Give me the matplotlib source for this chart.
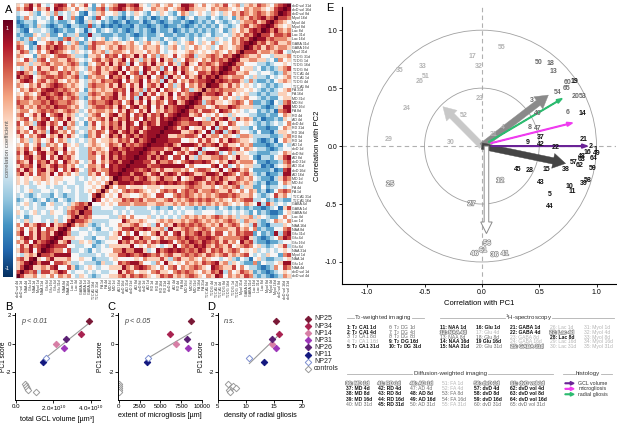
import matplotlib
matplotlib.use("Agg")
import matplotlib.pyplot as plt
import matplotlib.patheffects as pe
from matplotlib.lines import Line2D
from matplotlib.patches import Circle, FancyArrow
import numpy as np

plt.rcParams["font.family"] = ["Liberation Sans", "DejaVu Sans"]
plt.rcParams["mathtext.default"] = "regular"

W, H = 617, 434


def box(x0, y0, x1, y1):
    return [x0 / W, 1 - y1 / H, (x1 - x0) / W, (y1 - y0) / H]


def fx(x):
    return x / W


def fy(y):
    return 1 - y / H


# ---------------- A: correlation matrix ----------------
row_labels = [
    "dvD vol 31d", "dvD vol 16d", "dvD vol 8d", "MyoI 16d", "MyoI 4d", "MyoI 8d",
    "Lac 8d", "Lac 31d", "Lac 16d", "GABA 31d", "GABA 16d", "MyoI 31d",
    "T$_2$ DG 31d", "T$_2$ DG 1d", "T$_2$ DG 16d", "T$_2$ DG 8d", "T$_2$ CA1 4d",
    "T$_2$ CA1 1d", "T$_2$ DG 4d", "T$_2$ CA1 8d", "FA 31d", "FA 16d", "MD 31d",
    "MD 8d", "MD 16d", "FA 8d", "RD 4d", "AD 4d", "dvD 4d", "RD 31d", "RD 16d",
    "RD 8d", "RD 1d", "AD 1d", "dvD 1d", "dvD 8d", "AD 8d", "dvD 31d", "AD 31d",
    "dvD 16d", "AD 16d", "MD 1d", "MD 4d", "FA 4d", "FA 1d", "T$_2$ CA1 31d",
    "T$_2$ CA1 16d", "GABA 4d", "GABA 1d", "GABA 8d", "Lac 4d", "Lac 1d",
    "NAA 16d", "NAA 8d", "Glu 31d", "Glu 4d", "Glu 16d", "Glu 8d", "NAA 31d",
    "MyoI 1d", "NAA 1d", "Glu 1d", "NAA 4d", "dvD vol 1d", "dvD vol 4d",
]

# colour level of each cell (0 = dark blue, 4 = white, 9 = 1.0)
level_values = [-0.92, -0.74, -0.52, -0.28, 0.0, 0.24, 0.48, 0.68, 0.86, 1.0]

# upper-left triangle, one string per row (top to bottom), columns left to right
corr_rows = [
    "5468574347874645742464 5688678543564564588754 645657456356576546789",
    "6578465748765464532673 6787567644655645678655 54656654546566545789",
    "3445324536343542143564 4532435432435432465345 4354354657656765679",
    "2364343424843621432743 2321324323123243213423 324323425657678679",
    "1233244323223421353423 2123122312321232232123 23243234356675689",
    "2123253212321332272312 1212213221232122321232 3232432346756789",
    "3214334321232243134234 3232123232132231232323 232342354657879",
    "2322543522423352283322 2322321232234223223232 34233435657689",
    "3236435433267534243452 3432342342332432343243 4335434657689",
    "6532144675743562357665 5654564356453245345643 546345465789",
    "7642375768765653267545 6576565465564356435465 45346545679",
    "5763464687654354346563 5665465546564345445654 5456546579",
    "6544256546776533255647 6747658574636547456735 567657689",
    "5475367466557654346756 7568475365748563547654 65767689",
    "6653556756656763254675 8576384675856475368547 6765789",
    "4356475576465654365756 5684756487563748576465 657689",
    "7865367655767563456755 7858467385748657486547 76879",
    "8678456776765673265664 8675846758467385647568 6879",
    "5787467567546564356576 6784756847563857465767 789",
    "6546575678765654367665 7586475846758463574657 69",
    "4657657887676564256565 5767485637584765476356 9",
    "5465468767867653367656 6857476385746584756789",
    "6576576876756763256576 785647385746857467689",
    "7665667687667654367667 86746857485764785689",
    "6756576768776564356776 7586478568475867889",
    "5664567676567653465665 647586475846576789",
    "6745758467856534356745 78568476857685789",
    "5674657846758543465675 8576857486758789",
    "7465378576485634257465 768587486875889",
    "6548567485736543356475 86758678578889",
    "7564756387564634365764 7857868578889",
    "5746578465857543265745 868578687889",
    "4653564574653434356455 65767586789",
    "5464573656475453456545 7658676789",
    "6574685476584543365654 786787889",
    "7586478568475643367565 87868889",
    "6478568475867543366475 8687889",
    "7658476857486564357465 786889",
    "5767486578675643466574 87889",
    "7586478568475864367566 8789",
    "6857476584756453365746 889",
    "5454556545544434345454 69",
    "5453454545434433454546 9",
    "4343344343343343445469",
    "434533443434434345469",
    "34323433243233433479",
    "2343234232432343349",
    "345343245334356769",
    "43434334434356779",
    "5434534354436769",
    "342344333434579",
    "43534434353479",
    "6475687485679",
    "574658476589",
    "68475867589",
    "4687586789",
    "657486789",
    "47586789",
    "5768479",
    "435659",
    "67589",
    "5689",
    "579",
    "79",
    "9",
]

n = len(row_labels)
corr = np.zeros((n, n))
for i, s in enumerate(corr_rows):
    s = s.replace(" ", "")
    for j in range(n - i):
        v = level_values[int(s[j])] if j < len(s) else 0.0
        corr[i, j] = v
        corr[n - 1 - j, n - 1 - i] = v
    corr[i, n - 1 - i] = 1.0

# ---------------- B-D: PC1 score vs histology ----------------
groups = ["NP25", "NP34", "NP14", "NP31", "NP26", "NP11", "NP27", "controls"]
group_colors = ["#7a1836", "#a8214f", "#d77ea5", "#9c36b8", "#5a1f73", "#13187f", "#7d8fd0", "#9a9a9a"]
pc1_score = [1.6, 0.66, 0.0, -0.28, 0.3, -1.3, -0.98]
gcl_volume = [3.9e10, 3.46e10, 2.14e10, 2.57e10, 2.66e10, 1.46e10, 1.62e10]
microgliosis = [8700, 6160, 6860, 8290, 8170, 3380, 3500]
radial_gliosis = [15.4, 15.9, 14.6, 15.4, 14.7, 13.3, 10.6]
ctrl_pc1 = [-2.84, -3.0, -3.1, -3.27, -3.42]
ctrl_gcl = [0.46e10, 0.52e10, 0.6e10, 0.66e10, 1.06e10]
ctrl_microgliosis = [0, 0, 0, 0, 0]
ctrl_radial = [6.7, 7.6, 8.3, 7.0, 7.2]

# ---------------- E: correlation circle ----------------
feature_names = [
    "T$_2$ CA1 1d", "T$_2$ CA1 4d", "T$_2$ CA1 8d", "T$_2$ CA1 16d", "T$_2$ CA1 31d",
    "T$_2$ DG 1d", "T$_2$ DG 4d", "T$_2$ DG 8d", "T$_2$ DG 16d", "T$_2$ DG 31d",
    "NAA 1d", "NAA 4d", "NAA 8d", "NAA 16d", "NAA 31d",
    "Glu 1d", "Glu 4d", "Glu 8d", "Glu 16d", "Glu 31d",
    "GABA 1d", "GABA 4d", "GABA 8d", "GABA 16d", "GABA 31d",
    "Lac 1d", "Lac 4d", "Lac 8d", "Lac 16d", "Lac 31d",
    "MyoI 1d", "MyoI 4d", "MyoI 8d", "MyoI 16d", "MyoI 31d",
    "MD 1d", "MD 4d", "MD 8d", "MD 16d", "MD 31d",
    "RD 1d", "RD 4d", "RD 8d", "RD 16d", "RD 31d",
    "AD 1d", "AD 4d", "AD 8d", "AD 16d", "AD 31d",
    "FA 1d", "FA 4d", "FA 8d", "FA 16d", "FA 31d",
    "dvD 1d", "dvD 4d", "dvD 8d", "dvD 16d", "dvD 31d",
    "dvD vol 1d", "dvD vol 4d", "dvD vol 8d", "dvD vol 16d", "dvD vol 31d",
]
# b = bold black, g = grey, l = light grey, o = outlined
feature_style = ("bbglbgggbb" "bogbbblgbg" "bbllolobll" "lllll"
                 "obbbg" "obbbb" "ogbbg" "llggl" "obbbg" "obbbg")

pc1_corr = {
    1: 0.99, 2: 0.95, 3: 0.44, 4: 0.18, 5: 0.59, 6: 0.75, 8: 0.42, 9: 0.40, 10: 0.76,
    11: 0.79, 12: 0.16, 13: 0.62, 14: 0.88, 15: 0.56, 16: 0.92, 17: -0.085, 18: 0.60,
    19: 0.81, 20: 0.82, 21: 0.89, 22: 0.64, 23: -0.02, 24: -0.66, 25: -0.80, 26: -0.54,
    27: -0.09, 28: 0.42, 29: -0.81, 30: -0.275, 31: 0.10, 32: -0.03, 33: -0.52,
    35: -0.72, 36: 0.11, 37: 0.51, 38: 0.73, 39: 0.89, 40: 0.49, 41: 0.20, 42: 0.51,
    43: 0.51, 44: 0.59, 45: 0.31, 46: -0.065, 47: 0.49, 48: 0.875, 49: 1.0, 50: 0.50,
    51: -0.49, 52: -0.16, 53: 0.88, 54: 0.66, 55: 0.17, 56: 0.045, 57: 0.80, 58: 0.92,
    59: 0.97, 60: 0.75, 61: 0.01, 62: 0.855, 63: 0.87, 64: 0.97, 65: 0.74,
}
pc2_corr = {
    1: -0.03, 2: 0.0, 3: 0.39, 4: 0.16, 5: -0.42, 6: 0.29, 8: 0.16, 9: 0.035, 10: -0.35,
    11: -0.39, 12: -0.30, 13: 0.64, 14: 0.28, 15: -0.20, 16: -0.055, 17: 0.77, 18: 0.71,
    19: 0.56, 20: 0.43, 21: 0.055, 22: -0.01, 23: 0.41, 24: 0.32, 25: -0.33, 26: 0.56,
    27: -0.50, 28: -0.21, 29: 0.055, 30: 0.035, 31: 0.10, 32: 0.69, 33: 0.69,
    35: 0.65, 36: -0.94, 37: 0.07, 38: -0.20, 39: -0.32, 40: 0.28, 41: -0.93, 42: 0.01,
    43: -0.31, 44: -0.52, 45: -0.20, 46: -0.93, 47: 0.15, 48: -0.086, 49: -0.066,
    50: 0.72, 51: 0.60, 52: 0.26, 53: 0.43, 54: 0.46, 55: 0.85, 56: -0.84, 57: -0.14,
    58: -0.30, 59: -0.195, 60: 0.55, 61: -0.90, 62: -0.17, 63: -0.12, 64: -0.11, 65: 0.50,
}

# fat arrows: end point and colour
fat_arrows = [
    ((-0.34, 0.34), "#c8c8c8"),
    ((0.58, 0.44), "#8a8a8a"),
    ((0.73, -0.15), "#454545"),
]
histology = ["GCL volume", "microgliosis", "radial gliosis"]
histology_colors = ["#6a2396", "#ef3cef", "#2dbb70"]
histology_start = [(0.08, 0.0), (0.08, 0.025), (0.06, 0.035)]
histology_end = [(0.92, 0.0), (0.79, 0.20), (0.70, 0.41)]

style_color = {"b": "#111111", "g": "#6a6a6a", "l": "#b4b4b4", "o": "white"}
outline = [pe.withStroke(linewidth=1.0, foreground="#8a8a8a")]

fig = plt.figure(figsize=(W / 100, H / 100), dpi=100)

# ---- A
ax_a = fig.add_axes(box(16, 3, 291, 278))
ax_a.imshow(corr, cmap="RdBu_r", vmin=-1, vmax=1, aspect="auto", interpolation="nearest")
ax_a.yaxis.tick_right()
ax_a.set_yticks(range(n))
ax_a.set_yticklabels(row_labels, fontsize=2.6, color="#333333")
ax_a.set_xticks(range(n))
ax_a.set_xticklabels(row_labels[::-1], fontsize=2.6, rotation=90, color="#333333")
ax_a.tick_params(length=0, pad=1)
for s in ax_a.spines.values():
    s.set_color("#cccccc")
    s.set_linewidth(0.4)

ax_cb = fig.add_axes(box(3, 20, 12, 277))
ax_cb.imshow(np.linspace(1, -1, 256)[:, None], cmap="RdBu_r", vmin=-1, vmax=1,
             aspect="auto", extent=[0, 1, -1, 1])
ax_cb.set_axis_off()
ax_cb.text(0.5, 0.93, "1", color="white", fontsize=4, ha="center", va="center")
ax_cb.text(0.5, -0.93, "-1", color="white", fontsize=4, ha="center", va="center")
ax_cb.text(0.5, 0.0, "correlation coefficient", color="#555555", fontsize=4.3,
           rotation=90, ha="center", va="center")

fig.text(fx(5), fy(10), "A", fontsize=8, va="center")
fig.text(fx(5), fy(307), "B", fontsize=8, va="center")
fig.text(fx(107), fy(307), "C", fontsize=8, va="center")
fig.text(fx(207), fy(307), "D", fontsize=8, va="center")
fig.text(fx(326), fy(8), "E", fontsize=8, va="center")


# ---- B, C, D
def score_panel(rect, xs, ctrl_xs, xlim, xticks, xticklabels, xlabel, ptext, ylab_x):
    ax = fig.add_axes(rect)
    for k in range(7):
        filled = k != 6
        ax.plot(xs[k], pc1_score[k], marker="D", ms=3.3, ls="none",
                mfc=group_colors[k] if filled else "white", mec=group_colors[k], mew=0.7)
    ax.plot(ctrl_xs, ctrl_pc1, marker="D", ms=3.3, ls="none", mfc="white",
            mec=group_colors[7], mew=0.7)
    m, c = np.polyfit(xs, pc1_score, 1)
    xl = np.array([min(xs), max(xs)])
    ax.plot(xl, m * xl + c, color="#9a9a9a", lw=0.8, zorder=1)
    ax.set_xlim(*xlim)
    ax.set_ylim(-3.95, 2.15)
    ax.set_yticks([2, 0, -2])
    ax.set_yticklabels(["2", "0", "-2"])
    ax.set_xticks(xticks)
    ax.set_xticklabels(xticklabels)
    ax.tick_params(labelsize=4.4, length=2, width=0.6, pad=1.0)
    for s in ["top", "right"]:
        ax.spines[s].set_visible(False)
    for s in ["left", "bottom"]:
        ax.spines[s].set_linewidth(0.7)
    ax.set_xlabel(xlabel, fontsize=5.2, labelpad=2)
    ax.set_ylabel("PC1 score", fontsize=4.7)
    ax.yaxis.set_label_coords(ylab_x, 0.5)
    ax.text(0.07, 0.88, ptext, transform=ax.transAxes, fontsize=5.2,
            style="italic", color="#444444")
    return ax


score_panel(box(15, 313, 100, 400), gcl_volume, ctrl_gcl, (-0.05e10, 4.5e10),
            [0, 2e10, 4e10], ["0.0", r"2.0$\times$10$^{10}$", r"4.0$\times$10$^{10}$"],
            "total GCL volume [µm³]", "p < 0.01", -0.09)
score_panel(box(118, 313, 202, 400), microgliosis, ctrl_microgliosis, (-100, 10000),
            [0, 2500, 5000, 7500, 10000], ["0", "2500", "5000", "7500", "10000"],
            "extent of microgliosis [µm]", "p < 0.05", -0.17)
score_panel(box(218, 313, 302, 400), radial_gliosis, ctrl_radial, (5, 20),
            [5, 10, 15, 20], ["5", "10", "15", "20"],
            "density of radial gliosis", "n.s.", -0.15)

for k, g in enumerate(groups):
    yk = 319 + 7.1 * k
    filled = k < 6
    fig.lines.append(Line2D([fx(308)], [fy(yk)], marker="D", ms=3.3, ls="none",
                            mfc=group_colors[k] if filled else "white",
                            mec=group_colors[k], mew=0.7, transform=fig.transFigure))
    fig.text(fx(314), fy(yk), g, fontsize=5, va="center", color="#222222")

# ---- E
ax_e = fig.add_axes(box(342, 7, 616, 284))
ax_e.set_xlim(-1.22, 1.17)
ax_e.set_ylim(-1.19, 1.2)
for r in [1.0, 0.5]:
    ax_e.add_patch(Circle((0, 0), r, fill=False, ec="#a0a0a0", lw=0.6))
ax_e.axhline(0, color="#b0b0b0", lw=0.8, ls=(0, (4, 3)), zorder=0)
ax_e.axvline(0, color="#b0b0b0", lw=0.8, ls=(0, (4, 3)), zorder=0)

for (ex, ey), col in fat_arrows:
    ax_e.arrow(0, 0, ex, ey, width=0.055, head_width=0.13, head_length=0.11,
               length_includes_head=True, fc=col, ec=col, lw=0.3, zorder=2)
ax_e.arrow(0.04, 0, 0, -0.755, width=0.04, head_width=0.1, head_length=0.1,
           length_includes_head=True, fc="white", ec="#8a8a8a", lw=0.7, zorder=2)
for (sx, sy), (ex, ey), col in zip(histology_start, histology_end, histology_colors):
    ax_e.arrow(sx, sy, ex - sx, ey - sy, width=0.006, head_width=0.035, head_length=0.05,
               length_includes_head=True, fc=col, ec=col, zorder=3)

for fid in pc1_corr:
    st = feature_style[fid - 1]
    ax_e.text(pc1_corr[fid], pc2_corr[fid], str(fid), fontsize=5, fontweight="bold",
              color=style_color[st], ha="center", va="center", zorder=4,
              path_effects=outline if st == "o" else None)

ax_e.set_xticks([-1, -0.5, 0, 0.5, 1])
ax_e.set_yticks([-1, -0.5, 0, 0.5, 1])
ax_e.set_xticklabels(["-1.0", "-0.5", "0.0", "0.5", "1.0"])
ax_e.set_yticklabels(["-1.0", "-0.5", "0.0", "0.5", "1.0"])
ax_e.tick_params(labelsize=5, length=2, width=0.6, pad=1.5)
for s in ["top", "right"]:
    ax_e.spines[s].set_visible(False)
for s in ["left", "bottom"]:
    ax_e.spines[s].set_linewidth(0.8)
ax_e.set_xlabel("Correlation with PC1", fontsize=5.5, labelpad=3)
ax_e.set_ylabel("Correlation with PC2", fontsize=5.5, labelpad=3)


# ---- E legend tables
def header(x_text, y, text, left, right):
    fig.text(fx(x_text), fy(y), text, fontsize=4.4, ha="center", va="center", color="#333333")
    for a, b in (left, right):
        fig.lines.append(Line2D([fx(a), fx(b)], [fy(y), fy(y)], color="#b0b0b0", lw=0.6,
                                transform=fig.transFigure))


def entry(x, y, fid):
    st = feature_style[fid - 1]
    sep = " " if fid == 19 else ": "
    fig.text(fx(x), fy(y), f"{fid}{sep}{feature_names[fid - 1]}", fontsize=3.6,
             fontweight="bold" if st in "bo" else "normal",
             color=style_color[st], va="center",
             path_effects=outline if st == "o" else None)


header(382.5, 318, "T$_2$-weighted imaging", (346.5, 353.5), (411.5, 423.5))
header(528.5, 318, "$^1$H-spectroscopy", (440, 505), (552, 613.5))
header(450, 374, "Diffusion-weighted imaging", (346.5, 411.5), (488, 553))
header(587.5, 374, "histology", (563, 574.5), (601, 612))

for col, x in enumerate([345.5, 388.5]):
    for k in range(5):
        entry(x, 327.7 + 4.67 * k, col * 5 + k + 1)
for col, x in enumerate([440, 475.5, 510.5, 549.5, 584]):
    for k in range(5):
        entry(x, 327.7 + 4.67 * k, 11 + col * 5 + k)
for col, x in enumerate([345.5, 377.5, 410, 442.5, 474, 510.5]):
    for k in range(5):
        entry(x, 383.3 + 5.3 * k, 36 + col * 5 + k)

for k, (name, col) in enumerate(zip(histology, histology_colors)):
    yk = 383.3 + 5.5 * k
    fig.patches.append(FancyArrow(
        fx(565), fy(yk), fx(574) - fx(565), 0, width=0.0015, head_width=0.008,
        head_length=0.006, length_includes_head=True, color=col,
        transform=fig.transFigure))
    fig.text(fx(578.5), fy(yk), name, fontsize=3.8, va="center", color="#333333")

fig.savefig("out.png", dpi=100)
